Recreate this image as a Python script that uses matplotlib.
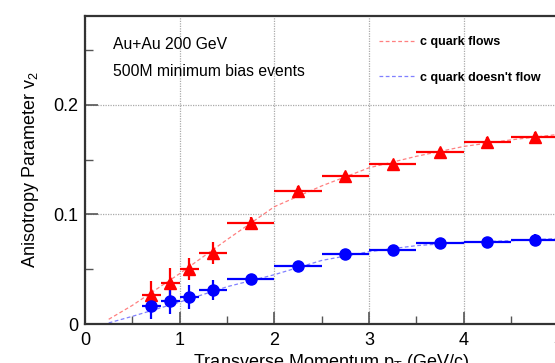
import numpy as np
import matplotlib
matplotlib.use("Agg")
import matplotlib.pyplot as plt

plt.rcParams['font.family'] = ['Liberation Sans', 'DejaVu Sans']

# measured points (bin centres, bin half widths, v2, stat errors)
pt = [0.7, 0.9, 1.1, 1.35, 1.75, 2.25, 2.75, 3.25, 3.75, 4.25, 4.75]
pt_halfwidth = [0.1, 0.1, 0.1, 0.15, 0.25, 0.25, 0.25, 0.25, 0.25, 0.25, 0.25]
v2_flow = [0.0265, 0.0377, 0.050, 0.065, 0.0925, 0.1215, 0.135, 0.1458, 0.1565, 0.1665, 0.1705]
err_flow = [0.013, 0.013, 0.010, 0.010, 0.005, 0.004, 0.004, 0.004, 0.004, 0.004, 0.005]
v2_noflow = [0.0164, 0.021, 0.025, 0.031, 0.0408, 0.0533, 0.0636, 0.0676, 0.0737, 0.0746, 0.0767]
err_noflow = [0.012, 0.012, 0.011, 0.009, 0.005, 0.004, 0.004, 0.004, 0.004, 0.004, 0.005]

# model curves
curve_pt = [0.25, 0.5, 1.0, 1.5, 2.0, 2.5, 3.0, 3.5, 4.0, 4.5, 5.0, 5.5]
curve_flow = [0.0043, 0.017, 0.046, 0.077, 0.107, 0.126, 0.1425, 0.153, 0.162, 0.168, 0.173, 0.176]
curve_noflow = [0.001, 0.007, 0.020, 0.034, 0.045, 0.058, 0.066, 0.0715, 0.0745, 0.076, 0.078, 0.079]

fig = plt.figure(figsize=(5.55, 3.63), dpi=100)
ax = fig.add_axes([0.1532, 0.1074, 0.887, 0.8485])

ax.plot(curve_pt, curve_flow, ls=(0, (3, 2)), lw=0.9, color='#ff6060', alpha=0.8,
        label='c quark flows')
ax.plot(curve_pt, curve_noflow, ls=(0, (3, 2)), lw=0.9, color='#6060ff', alpha=0.8,
        label="c quark doesn't flow")

ax.errorbar(pt, v2_flow, xerr=pt_halfwidth, yerr=err_flow, fmt='^', color='red',
            ms=9, elinewidth=1.6, capsize=0)
ax.errorbar(pt, v2_noflow, xerr=pt_halfwidth, yerr=err_noflow, fmt='o', color='blue',
            ms=8, elinewidth=1.6, capsize=0)

ax.set_xlim(0, 5.2)
ax.set_ylim(0, 0.281)
ax.set_xticks([0, 1, 2, 3, 4, 5])
ax.set_xticklabels(['0', '1', '2', '3', '4', '5'])
ax.set_xticks(np.arange(0.5, 5.2, 0.5), minor=True)
ax.set_yticks([0, 0.1, 0.2])
ax.set_yticklabels(['0', '0.1', '0.2'])
ax.set_yticks([0.05, 0.15, 0.25], minor=True)
ax.tick_params(which='both', direction='in', labelsize=13, color='#555555')
ax.tick_params(which='major', length=9, width=1.2, pad=5)
ax.tick_params(which='minor', length=6, width=1.0)
ax.tick_params(axis='x', pad=6)
ax.grid(True, which='major', ls=(0, (1, 1)), color='#aaaaaa', lw=0.9)

for s in ax.spines.values():
    s.set_linewidth(1.6)
    s.set_color('#333333')

ax.set_xlabel('Transverse Momentum p$_\\mathregular{T}$ (GeV/c)', fontsize=13, labelpad=2)
ax.set_ylabel('Anisotropy Parameter v$_\\mathregular{2}$', fontsize=13, labelpad=9)

ax.text(0.057, 0.907, 'Au+Au 200 GeV', transform=ax.transAxes, fontsize=11.3, va='center')
ax.text(0.057, 0.82, '500M minimum bias events', transform=ax.transAxes, fontsize=11.3,
        va='center')

ax.legend(loc='upper left', bbox_to_anchor=(0.597, 0.935), frameon=False,
          prop={'weight': 'bold', 'size': 9}, handlelength=2.8, handletextpad=0.5,
          labelspacing=1.9, borderpad=0, borderaxespad=0)

fig.savefig('out.png', dpi=100)
